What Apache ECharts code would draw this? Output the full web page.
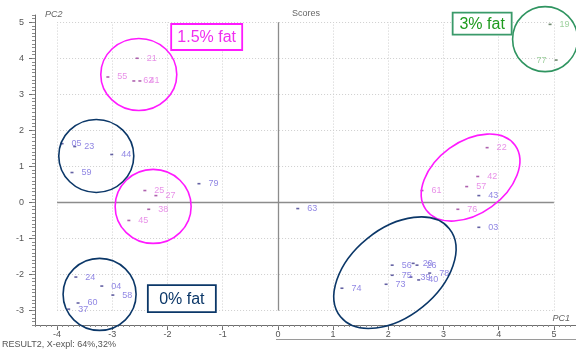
<!DOCTYPE html>
<html>
<head>
<meta charset="utf-8">
<script src="https://cdn.jsdelivr.net/npm/echarts@6/dist/echarts.min.js"></script>
<style>
  html, body { margin: 0; padding: 0; background: #fff; }
  #chart { width: 576px; height: 351px; }
</style>
</head>
<body>
<div id="chart"></div>
<script>
// PCA scores, PC1 vs PC2, grouped by milk fat level
const skimIds = ['05','23','44','59','79','63','43','03','24','04','58','60','37','74','73','56','75','20','26','39','40','78'];
const skimPC1 = [-3.91,-3.68,-3.01,-3.73,-1.43,0.36,3.64,3.64,-3.66,-3.19,-2.99,-3.62,-3.79,1.16,1.96,2.07,2.07,2.45,2.52,2.41,2.55,2.75];
const skimPC2 = [1.63,1.55,1.33,0.83,0.52,-0.17,0.19,-0.69,-2.07,-2.32,-2.57,-2.79,-2.96,-2.38,-2.27,-1.74,-2.02,-1.69,-1.74,-2.07,-2.15,-1.96];

const semiIds = ['21','55','62','41','25','27','38','45','22','42','57','61','76'];
const semiPC1 = [-2.55,-3.08,-2.61,-2.50,-2.41,-2.21,-2.34,-2.70,3.79,3.62,3.42,2.61,3.26];
const semiPC2 = [4.00,3.48,3.37,3.37,0.33,0.19,-0.19,-0.50,1.52,0.72,0.44,0.33,-0.19];

const wholeIds = ['19','77'];
const wholePC1 = [4.93,5.04];
const wholePC2 = [4.94,3.95];

const xTicks = [-4,-3,-2,-1,0,1,2,3,4,5];
const yTicks = [-3,-2,-1,0,1,2,3,4,5];

const FONT = '"Liberation Sans", Arial, sans-serif';

function points(ids, xs, ys, leftLabelIds) {
  return ids.map((id, i) => {
    const p = { name: id, value: [xs[i], ys[i]] };
    if (leftLabelIds && leftLabelIds.indexOf(id) >= 0) {
      p.label = { position: 'left' };
    }
    return p;
  });
}

function scoreSeries(name, data, dotColor, textColor) {
  return {
    name: name,
    type: 'scatter',
    xAxisIndex: 0,
    yAxisIndex: 0,
    symbol: 'rect',
    symbolSize: [3, 1.6],
    itemStyle: { color: dotColor },
    label: {
      show: true,
      position: 'right',
      distance: 8,
      formatter: '{b}',
      fontFamily: FONT,
      fontSize: 9,
      color: textColor
    },
    labelLayout: { hideOverlap: false },
    data: data,
    z: 5
  };
}

// dotted reference grid and solid zero lines, placed in data coordinates
const gridLines = [];
xTicks.forEach(v => gridLines.push([{ coord: [v, yTicks[0]] }, { coord: [v, yTicks[yTicks.length - 1]] }]));
yTicks.forEach(v => gridLines.push([{ coord: [xTicks[0], v] }, { coord: [xTicks[xTicks.length - 1], v] }]));
const zeroLines = [
  [{ coord: [0, yTicks[0]] }, { coord: [0, yTicks[yTicks.length - 1]] }],
  [{ coord: [xTicks[0], 0] }, { coord: [xTicks[xTicks.length - 1], 0] }]
];

const axisColor = '#6e6e6e';

const chart = echarts.init(document.getElementById('chart'), null, { renderer: 'canvas' });

chart.setOption({
  backgroundColor: '#ffffff',
  animation: false,
  grid: { left: 35, right: 0, top: 15, bottom: 26, containLabel: false },
  xAxis: [
    {
      type: 'value', min: -4.4, max: 5.4, position: 'bottom',
      axisLine: { show: true, onZero: false, lineStyle: { color: axisColor, width: 1 } },
      axisTick: { show: true, customValues: xTicks, length: 5, lineStyle: { color: axisColor } },
      axisLabel: { customValues: xTicks, fontFamily: FONT, fontSize: 9, color: '#555', margin: 5 },
      splitLine: { show: false }
    },
    {
      type: 'value', min: -4.4, max: 5.4, interval: 0.1, position: 'bottom',
      axisLine: { show: false, onZero: false },
      axisTick: { show: true, length: 2, lineStyle: { color: '#8a8a8a' } },
      axisLabel: { show: false },
      splitLine: { show: false }
    }
  ],
  yAxis: [
    {
      type: 'value', min: -3.4, max: 5.2, position: 'left',
      axisLine: { show: true, onZero: false, lineStyle: { color: axisColor, width: 1 } },
      axisTick: { show: true, customValues: yTicks, length: 6, lineStyle: { color: axisColor } },
      axisLabel: { customValues: yTicks, fontFamily: FONT, fontSize: 9, color: '#555', margin: 11 },
      splitLine: { show: false }
    },
    {
      type: 'value', min: -3.4, max: 5.2, interval: 0.1, position: 'left',
      axisLine: { show: false, onZero: false },
      axisTick: { show: true, length: 3, lineStyle: { color: '#8a8a8a' } },
      axisLabel: { show: false },
      splitLine: { show: false }
    }
  ],
  series: [
    {
      type: 'scatter', xAxisIndex: 0, yAxisIndex: 0, data: [], silent: true,
      markLine: {
        silent: true, symbol: 'none', animation: false,
        label: { show: false },
        lineStyle: { color: '#cfcfcf', width: 1, type: [1, 2] },
        data: gridLines
      },
      z: 1
    },
    {
      type: 'scatter', xAxisIndex: 0, yAxisIndex: 0, data: [], silent: true,
      markLine: {
        silent: true, symbol: 'none', animation: false,
        label: { show: false },
        lineStyle: { color: '#8c8c8c', width: 1.3, type: 'solid' },
        data: zeroLines
      },
      z: 2
    },
    scoreSeries('0% fat', points(skimIds, skimPC1, skimPC2), '#3d3a8c', '#7468dc'),
    scoreSeries('1.5% fat', points(semiIds, semiPC1, semiPC2), '#9a3a9a', '#e276e2'),
    scoreSeries('3% fat', points(wholeIds, wholePC1, wholePC2, ['77']), '#4a6a4a', '#86c486')
  ]
});

// Group outlines and captions: centres in score units, sizes in pixels
const rings = [
  { c: [-2.52, 3.55], rx: 38, ry: 36, rot: 0, color: '#ff1aff' },
  { c: [-3.29, 1.29], rx: 37.5, ry: 36.5, rot: 0, color: '#0b3768' },
  { c: [-2.26, -0.11], rx: 38, ry: 37, rot: 0, color: '#ff1aff' },
  { c: [3.49, 0.69], rx: 55, ry: 36, rot: 36, color: '#ff1aff' },
  { c: [2.12, -1.95], rx: 70, ry: 44, rot: 39, color: '#0b3768' },
  { c: [-3.23, -2.55], rx: 36.5, ry: 36, rot: 0, color: '#0b3768' },
  { c: [4.84, 4.53], rx: 32.5, ry: 32.5, rot: 0, color: '#2f9460' }
];
const captions = [
  { text: '1.5% fat', c: [-1.29, 4.59], w: 71, h: 26, color: '#ff1aff', textColor: '#f02ef0' },
  { text: '0% fat', c: [-1.74, -2.67], w: 68, h: 27, color: '#0b3768', textColor: '#0b3768' },
  { text: '3% fat', c: [3.7, 4.96], w: 59, h: 22, color: '#3a9a6a', textColor: '#1e9a1e' }
];

const toPx = v => chart.convertToPixel({ xAxisIndex: 0, yAxisIndex: 0 }, v);
const graphics = [];

rings.forEach(r => {
  const p = toPx(r.c);
  graphics.push({
    type: 'ellipse', x: p[0], y: p[1], rotation: r.rot * Math.PI / 180,
    shape: { cx: 0, cy: 0, rx: r.rx, ry: r.ry },
    style: { fill: null, stroke: r.color, lineWidth: 1.6 },
    silent: true, z: 10
  });
});

captions.forEach(b => {
  const p = toPx(b.c);
  graphics.push({
    type: 'rect', x: p[0] - b.w / 2, y: p[1] - b.h / 2,
    shape: { x: 0, y: 0, width: b.w, height: b.h },
    style: { fill: '#fff', stroke: b.color, lineWidth: 1.8 },
    silent: true, z: 11
  });
  graphics.push({
    type: 'text', x: p[0], y: p[1] + 1,
    style: { text: b.text, fill: b.textColor, font: '16px ' + FONT, textAlign: 'center', textVerticalAlign: 'middle' },
    silent: true, z: 12
  });
});

// Plot title, axis names and status line
graphics.push(
  { type: 'text', x: 306, y: 14, style: { text: 'Scores', fill: '#666', font: '9px ' + FONT, textAlign: 'center', textVerticalAlign: 'middle' }, silent: true },
  { type: 'text', x: 45, y: 14, style: { text: 'PC2', fill: '#666', font: 'italic 9px ' + FONT, textAlign: 'left', textVerticalAlign: 'middle' }, silent: true },
  { type: 'text', x: 570, y: 318, style: { text: 'PC1', fill: '#666', font: 'italic 9px ' + FONT, textAlign: 'right', textVerticalAlign: 'middle' }, silent: true },
  { type: 'line', shape: { x1: 276, y1: 339.5, x2: 576, y2: 339.5 }, style: { stroke: '#9a9a9a', lineWidth: 1 }, silent: true },
  { type: 'text', x: 2, y: 345, style: { text: 'RESULT2, X-expl: 64%,32%', fill: '#555', font: '9px ' + FONT, textAlign: 'left', textVerticalAlign: 'middle' }, silent: true }
);

chart.setOption({ graphic: graphics });
</script>
</body>
</html>
